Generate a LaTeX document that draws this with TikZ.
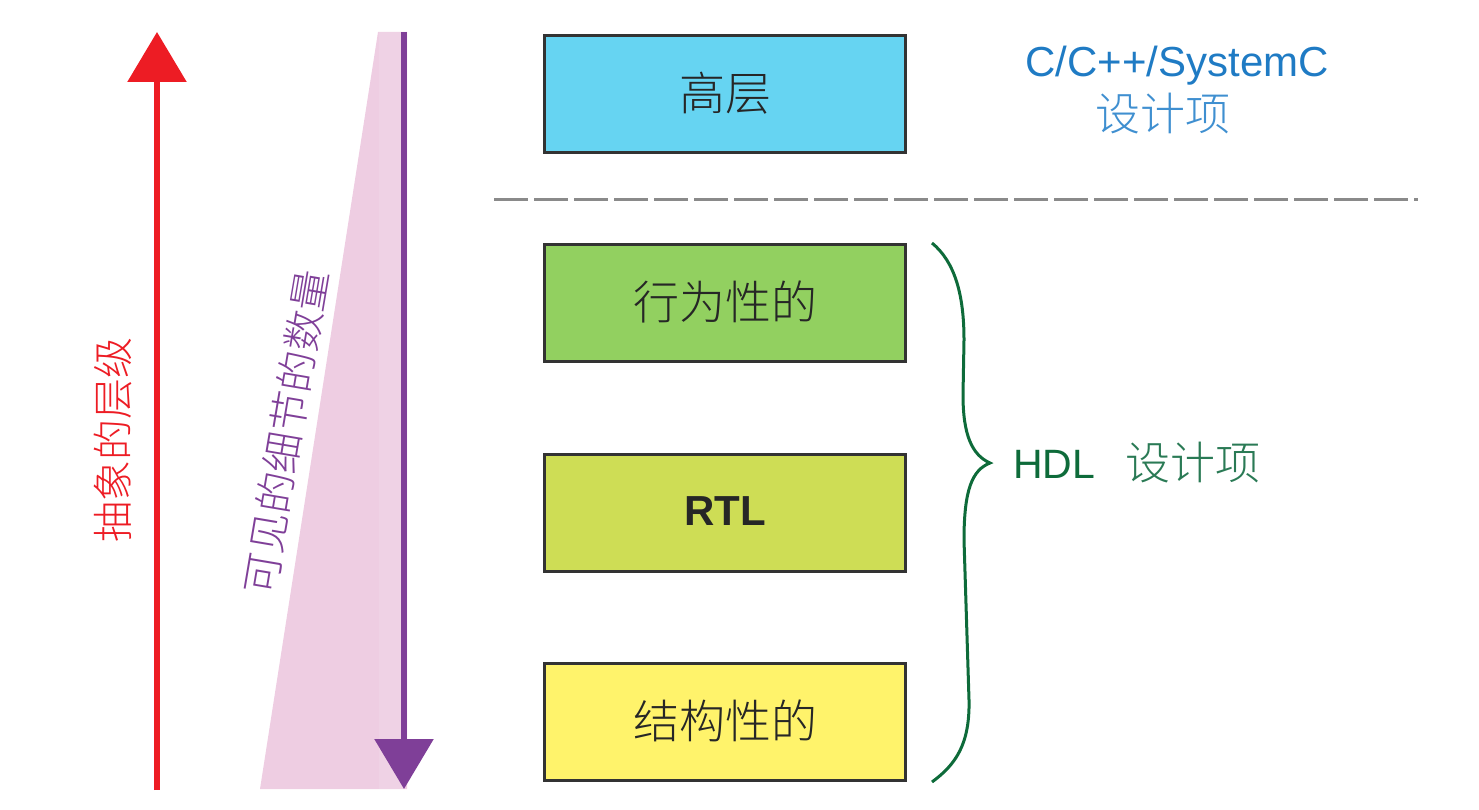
\documentclass[tikz,border=0pt]{standalone}
\usepackage{fontspec}
\setmainfont{Liberation Sans}
\newfontfamily\cjk{Noto Sans CJK SC}[UprightFont=* Light]
\usetikzlibrary{arrows.meta}
\definecolor{redA}{HTML}{ED1C24}
\definecolor{purpA}{HTML}{7F3F98}
\definecolor{pinkA}{HTML}{EECDE2}
\definecolor{pinkB}{HTML}{EFD2E5}
\definecolor{boxline}{HTML}{333333}
\definecolor{cyanA}{HTML}{66D4F2}
\definecolor{greenA}{HTML}{92D060}
\definecolor{limeA}{HTML}{CEDD55}
\definecolor{yellowA}{HTML}{FFF36B}
\definecolor{blueA}{HTML}{1F7BC4}
\definecolor{blueB}{HTML}{3F8FD0}
\definecolor{greenB}{HTML}{0E6B3A}
\definecolor{greenC}{HTML}{2A7A55}
\definecolor{dashgray}{HTML}{8A8A8A}
\tikzset{
  levelbox/.style={draw=boxline, line width=3pt, minimum width=361pt, minimum height=117pt, inner sep=0pt, font=\cjk\fontsize{46}{50}\selectfont, text=black!85},
  bigarrow/.style={line width=6pt, -{Triangle[width=58pt,length=50pt]}},
}
\begin{document}
\begin{tikzpicture}[x=1pt,y=-1pt]
\useasboundingbox (0,0) rectangle (1479,810);
% pink wedge
\fill[pinkA] (378,32) -- (407,32) -- (407,789) -- (260,789) -- cycle;
\fill[pinkB] (379,32) rectangle (403,789);
% arrows
\coordinate (rb) at (157,790);
\coordinate (rt) at (157,32);
\draw[bigarrow, redA] (rb) -- (rt);
\coordinate (pt) at (404,32);
\coordinate (pb) at (404,789);
\draw[bigarrow, purpA] (pt) -- (pb);
% rotated labels
\node[rotate=90, text=redA, font=\cjk\fontsize{41}{44}\selectfont] (abs) at (113,440) {抽象的层级};
\node[rotate=80.4, text=purpA, font=\cjk\fontsize{41}{44}\selectfont] (det) at (286,432) {可见的细节的数量};
% boxes
\node[levelbox, fill=cyanA] (high) at (725,94) {\raisebox{5pt}{高层}};
\node[levelbox, fill=greenA] (beh) at (725,303) {\raisebox{6pt}{行为性的}};
\node[levelbox, fill=limeA, font=\bfseries\fontsize{42}{46}\selectfont] (rtl) at (725,513) {\raisebox{3pt}{RTL}};
\node[levelbox, fill=yellowA] (str) at (725,722) {\raisebox{6pt}{结构性的}};
% dashed separator
\coordinate (dl) at (494,200);
\coordinate (dr) at (1418,200);
\draw[dashgray, line width=3pt, dash pattern=on 34pt off 6pt] (dl) -- (dr);
% top-right text
\node[text=blueA, font=\fontsize{42}{46}\selectfont, anchor=base, inner sep=0pt] (csys) at (1177,77) {C/C++/SystemC};
\node[text=blueB, font=\cjk\fontsize{45}{48}\selectfont, inner sep=0pt] (cdes) at (1163,114) {设计项};
% brace
\coordinate (bt) at (932,243);
\coordinate (bb) at (932,782);
\coordinate (tip) at (990,463);
\draw[greenB, line width=3pt] (bt) .. controls (955,262) and (964,295) .. (964,340) -- (963,395) .. controls (963,435) and (972,455) .. (tip) .. controls (972,470) and (964,490) .. (964,540) -- (969,700) .. controls (970,745) and (955,765) .. (bb);
\node[text=greenB, font=\fontsize{41}{44}\selectfont, anchor=base west, inner sep=0pt] (hdl) at (1013,478) {HDL};
\node[text=greenC, font=\cjk\fontsize{45}{48}\selectfont, inner sep=0pt] (hdes) at (1193,463) {设计项};
\end{tikzpicture}
\end{document}
